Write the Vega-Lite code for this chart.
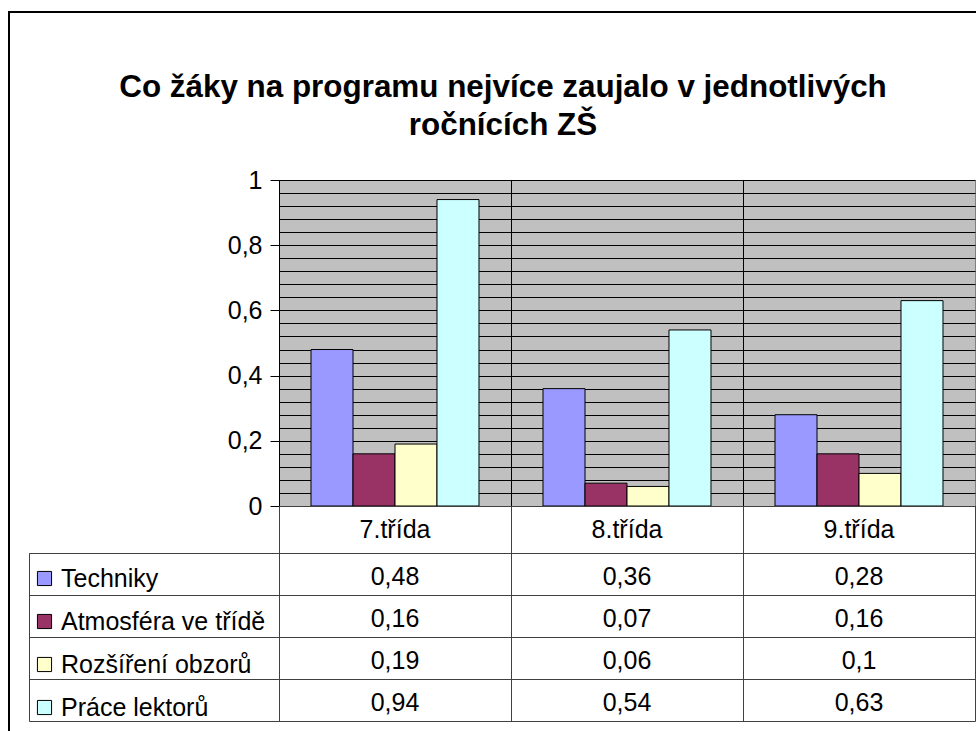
{
  "$schema": "https://vega.github.io/schema/vega-lite/v6.json",
  "background": "white",
  "padding": {"left": 8, "top": 11, "right": 0, "bottom": 0},
  "config": {
    "font": "Liberation Sans",
    "locale": {"number": {"decimal": ",", "thousands": " ", "grouping": [3], "currency": ["", " Kč"]}},
    "view": {"stroke": null},
    "text": {"font": "Liberation Sans", "fontSize": 25, "color": "black"}
  },
  "datasets": {
    "bars": [
      {"cls": "7.třída", "series": "Techniky", "value": 0.48},
      {"cls": "7.třída", "series": "Atmosféra ve třídě", "value": 0.16},
      {"cls": "7.třída", "series": "Rozšíření obzorů", "value": 0.19},
      {"cls": "7.třída", "series": "Práce lektorů", "value": 0.94},
      {"cls": "8.třída", "series": "Techniky", "value": 0.36},
      {"cls": "8.třída", "series": "Atmosféra ve třídě", "value": 0.07},
      {"cls": "8.třída", "series": "Rozšíření obzorů", "value": 0.06},
      {"cls": "8.třída", "series": "Práce lektorů", "value": 0.54},
      {"cls": "9.třída", "series": "Techniky", "value": 0.28},
      {"cls": "9.třída", "series": "Atmosféra ve třídě", "value": 0.16},
      {"cls": "9.třída", "series": "Rozšíření obzorů", "value": 0.1},
      {"cls": "9.třída", "series": "Práce lektorů", "value": 0.63}
    ],
    "classes": [{"cls": "7.třída"}, {"cls": "8.třída"}, {"cls": "9.třída"}],
    "series": [{"series": "Techniky"}, {"series": "Atmosféra ve třídě"}, {"series": "Rozšíření obzorů"}, {"series": "Práce lektorů"}],
    "blank": [{}]
  },
  "spacing": 0,
  "bounds": "flush",
  "resolve": {"scale": {"color": "independent"}, "legend": {"color": "independent"}},
  "vconcat": [
    {
      "width": 966, "height": 0.01,
      "view": {"stroke": "black", "strokeWidth": 2},
      "data": {"name": "blank"},
      "mark": {"type": "text", "fontSize": 0},
      "encoding": {"text": {"value": ""}}
    },
    {
      "spacing": 19,
      "bounds": "flush",
      "resolve": {"scale": {"color": "independent"}, "legend": {"color": "independent"}},
      "hconcat": [
        {
          "width": 0.01, "height": 717,
          "view": {"stroke": "black", "strokeWidth": 2},
          "data": {"name": "blank"},
          "mark": {"type": "text", "fontSize": 0},
          "encoding": {"text": {"value": ""}}
        },
        {
          "columns": 2,
          "spacing": 0,
          "bounds": "flush",
          "resolve": {"scale": {"color": "independent"}, "legend": {"color": "independent"}},
          "concat": [
            {"width": 250, "height": 167, "data": {"name": "blank"}, "mark": {"type": "text", "fontSize": 0}, "encoding": {"text": {"value": ""}}},
            {"width": 696, "height": 167, "data": {"name": "blank"}, "mark": {"type": "text", "fontSize": 0}, "encoding": {"text": {"value": ""}}},
            {"width": 250, "height": 326, "data": {"name": "blank"}, "mark": {"type": "text", "fontSize": 0}, "encoding": {"text": {"value": ""}}},
            {
              "width": 696, "height": 326,
              "data": {"name": "bars"},
              "view": {"fill": "#C0C0C0", "stroke": "#808080"},
              "title": {
                "text": ["Co žáky na programu nejvíce zaujalo v jednotlivých", "ročnících ZŠ"],
                "fontSize": 31.4, "fontWeight": "bold", "font": "Liberation Sans", "color": "black",
                "anchor": "middle", "frame": "group", "dx": -124, "offset": 27, "lineHeight": 38
              },
              "mark": {"type": "bar", "stroke": "black", "strokeWidth": 1},
              "encoding": {
                "x": {
                  "field": "cls", "type": "nominal", "sort": null,
                  "scale": {"type": "band", "paddingInner": 0, "paddingOuter": 0},
                  "axis": {"title": null, "labels": false, "ticks": false, "domain": false, "grid": true, "gridColor": "black", "gridOpacity": 1, "bandPosition": 0}
                },
                "xOffset": {
                  "field": "series", "type": "nominal",
                  "sort": ["Techniky", "Atmosféra ve třídě", "Rozšíření obzorů", "Práce lektorů"],
                  "scale": {"paddingInner": 0, "paddingOuter": 0.762}
                },
                "y": {
                  "field": "value", "type": "quantitative",
                  "scale": {"domain": [0, 1], "nice": false},
                  "axis": {
                    "title": null,
                    "values": [0, 0.04, 0.08, 0.12, 0.16, 0.2, 0.24, 0.28, 0.32, 0.36, 0.4, 0.44, 0.48, 0.52, 0.56, 0.6, 0.64, 0.68, 0.72, 0.76, 0.8, 0.84, 0.88, 0.92, 0.96, 1],
                    "format": "~g",
                    "labelExpr": "abs(datum.value*5 - round(datum.value*5)) < 0.001 ? datum.label : ''",
                    "labelFontSize": 25, "labelFont": "Liberation Sans", "labelColor": "black", "labelPadding": 8,
                    "tickSize": 9, "tickColor": "black",
                    "tickOpacity": {"condition": {"test": "abs(datum.value*5 - round(datum.value*5)) < 0.001", "value": 1}, "value": 0},
                    "domainColor": "black", "domainWidth": 1,
                    "grid": true, "gridColor": "black", "gridOpacity": 1, "gridWidth": 1
                  }
                },
                "color": {
                  "field": "series", "type": "nominal",
                  "scale": {"domain": ["Techniky", "Atmosféra ve třídě", "Rozšíření obzorů", "Práce lektorů"], "range": ["#9999FF", "#993366", "#FFFFCC", "#CCFFFF"]},
                  "legend": null
                }
              }
            },
            {"width": 250, "height": 47, "data": {"name": "blank"}, "mark": {"type": "text", "fontSize": 0}, "encoding": {"text": {"value": ""}}},
            {
              "width": 696, "height": 47,
              "data": {"name": "classes"},
              "view": {"stroke": "#404040"},
              "mark": {"type": "text", "fontSize": 25, "color": "black"},
              "encoding": {
                "x": {
                  "field": "cls", "type": "nominal", "sort": null,
                  "scale": {"type": "band", "paddingInner": 0, "paddingOuter": 0},
                  "axis": {"title": null, "labels": false, "ticks": false, "domain": false, "grid": true, "gridColor": "#404040", "gridOpacity": 1, "bandPosition": 0}
                },
                "text": {"field": "cls"}
              }
            },
            {
              "width": 250, "height": 168,
              "data": {"name": "series"},
              "view": {"stroke": "#404040"},
              "mark": {"type": "square", "opacity": 0},
              "encoding": {
                "y": {
                  "field": "series", "type": "nominal",
                  "sort": ["Techniky", "Atmosféra ve třídě", "Rozšíření obzorů", "Práce lektorů"],
                  "scale": {"type": "band", "paddingInner": 0, "paddingOuter": 0},
                  "axis": {"title": null, "labels": false, "ticks": false, "domain": false, "grid": true, "gridColor": "#404040", "gridOpacity": 1, "bandPosition": 0}
                },
                "color": {
                  "field": "series", "type": "nominal",
                  "scale": {"domain": ["Techniky", "Atmosféra ve třídě", "Rozšíření obzorů", "Práce lektorů"], "range": ["#9999FF", "#993366", "#FFFFCC", "#CCFFFF"]},
                  "legend": {
                    "orient": "top-left", "offset": 3, "padding": 0, "title": " ",
                    "titleFontSize": 4, "titlePadding": 6,
                    "symbolType": "square", "symbolSize": 200, "symbolStrokeColor": "black", "symbolStrokeWidth": 1, "symbolOpacity": 1,
                    "labelFontSize": 25, "labelFont": "Liberation Sans", "labelColor": "black", "labelOffset": 4, "labelLimit": 0,
                    "rowPadding": 17,
                    "encode": {"symbols": {"update": {"opacity": {"value": 1}, "stroke": {"value": "black"}, "strokeWidth": {"value": 1}}}}
                  }
                }
              }
            },
            {
              "width": 696, "height": 168,
              "data": {"name": "bars"},
              "view": {"stroke": "#404040"},
              "mark": {"type": "text", "fontSize": 25, "color": "black", "dy": 3},
              "encoding": {
                "x": {
                  "field": "cls", "type": "nominal", "sort": null,
                  "scale": {"type": "band", "paddingInner": 0, "paddingOuter": 0},
                  "axis": {"title": null, "labels": false, "ticks": false, "domain": false, "grid": true, "gridColor": "#404040", "gridOpacity": 1, "bandPosition": 0}
                },
                "y": {
                  "field": "series", "type": "nominal",
                  "sort": ["Techniky", "Atmosféra ve třídě", "Rozšíření obzorů", "Práce lektorů"],
                  "scale": {"type": "band", "paddingInner": 0, "paddingOuter": 0},
                  "axis": {"title": null, "labels": false, "ticks": false, "domain": false, "grid": true, "gridColor": "#404040", "gridOpacity": 1, "bandPosition": 0}
                },
                "text": {"field": "value", "type": "quantitative", "format": "~g"}
              }
            }
          ]
        }
      ]
    }
  ]
}
